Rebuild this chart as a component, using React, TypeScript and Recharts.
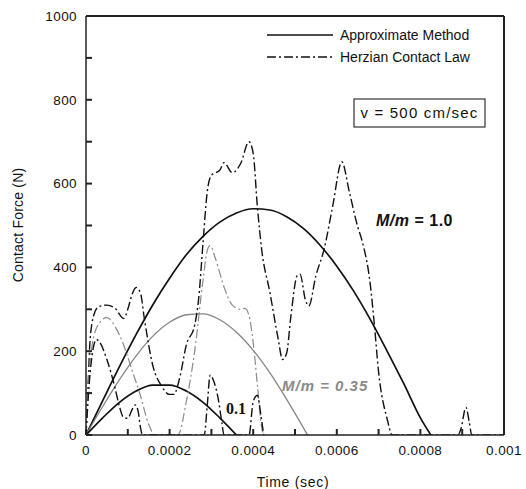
import React from "react"
import { LineChart, Line, XAxis, YAxis, ReferenceLine } from "recharts"

type Pt = [number, number]

// Approximate method (solid) — [time s, force N]
const approx10: Pt[] = [
  [0, 0], [0.00004, 82], [0.00008, 163], [0.00012, 240], [0.00016, 311], [0.0002, 374],
  [0.00024, 430], [0.00028, 474], [0.00032, 508], [0.00036, 530], [0.0004, 540],
  [0.00044, 537], [0.00048, 521], [0.00052, 493], [0.00056, 453], [0.0006, 403],
  [0.00064, 344], [0.00068, 276], [0.00072, 201], [0.00076, 123], [0.0008, 41], [0.000825, 0],
]
const approx035: Pt[] = [
  [0, 0], [0.00004, 68], [0.00008, 132], [0.00012, 189], [0.00016, 236], [0.0002, 269],
  [0.00024, 287], [0.00028, 289], [0.00032, 275], [0.00036, 245], [0.0004, 202],
  [0.00044, 148], [0.00048, 85], [0.00053, 0],
]
const approx01: Pt[] = [
  [0, 0], [0.00004, 41], [0.00008, 78], [0.00012, 105], [0.00016, 119], [0.0002, 119],
  [0.00024, 105], [0.00028, 78], [0.00032, 41], [0.00036, 0],
]

// Herzian contact law (dash-dot)
const herz10: Pt[] = [
  [0, 0], [0.000005, 120], [0.00001, 230], [0.00002, 290], [0.00003, 306], [0.00005, 310],
  [0.00007, 302], [0.00009, 278], [0.0001, 300], [0.00011, 335], [0.00012, 352],
  [0.00013, 340], [0.00014, 275], [0.00016, 165], [0.00018, 118], [0.0002, 97],
  [0.00021, 97], [0.000225, 140], [0.00024, 215], [0.00026, 262], [0.00027, 330],
  [0.00028, 460], [0.00029, 580], [0.0003, 620], [0.00032, 632], [0.00033, 650],
  [0.00035, 626], [0.00037, 648], [0.00039, 700], [0.0004, 672], [0.00041, 545],
  [0.00042, 445], [0.00044, 340], [0.00046, 228], [0.00047, 180], [0.00048, 195],
  [0.00049, 282], [0.000505, 380], [0.000512, 384], [0.000525, 322], [0.000533, 308],
  [0.00055, 380], [0.00057, 445], [0.00059, 545], [0.000612, 652], [0.00063, 580],
  [0.00065, 497], [0.00066, 465], [0.00068, 360], [0.00069, 262], [0.0007, 150],
  [0.00072, 40], [0.000733, 0], [0.00089, 0], [0.000897, 15], [0.000909, 66],
  [0.000917, 30], [0.000923, 0], [0.001, 0],
]
const herz035: Pt[] = [
  [0, 0], [0.00001, 180], [0.00003, 265], [0.00005, 280], [0.00007, 258], [0.00009, 215],
  [0.00011, 155], [0.00013, 95], [0.00015, 25], [0.000165, 0], [0.00022, 0],
  [0.00024, 80], [0.00026, 200], [0.00028, 370], [0.00029, 440], [0.000297, 452],
  [0.00031, 420], [0.00033, 354], [0.00035, 310], [0.00037, 300], [0.00038, 302],
  [0.00039, 285], [0.0004, 220], [0.00041, 120], [0.00042, 20], [0.000425, 0],
]
const herz01: Pt[] = [
  [0, 0], [0.00001, 150], [0.000025, 228], [0.00003, 225], [0.00005, 180], [0.00007, 110],
  [0.00008, 68], [0.00009, 42], [0.0001, 40], [0.00011, 60], [0.000118, 72],
  [0.000125, 55], [0.00013, 20], [0.000135, 0], [0.000283, 0], [0.00029, 70],
  [0.000297, 143], [0.000305, 130], [0.000316, 88], [0.000325, 30], [0.00033, 0],
  [0.00039, 0], [0.0004, 80], [0.00041, 95], [0.000418, 50], [0.000425, 0],
]

const xTicks = [0, 0.0001, 0.0002, 0.0003, 0.0004, 0.0005, 0.0006, 0.0007, 0.0008, 0.0009, 0.001]
const yTicks = [0, 100, 200, 300, 400, 500, 600, 700, 800, 900, 1000]

const FONT = '"Liberation Sans", Arial, sans-serif'
const DASH = "9 3 2 3"
const FRAME = "#222"

const toRows = (pts: Pt[]) => pts.map(([t, f]) => ({ t, f }))
const tickStyle = { fontFamily: FONT, fontSize: 13.5, fill: "#111", letterSpacing: 0.4 }
const fmtX = (v: number) => (Math.round(v * 10000) % 2 === 0 ? String(v) : "")
const fmtY = (v: number) => (v % 200 === 0 ? String(v) : "")

export default function App() {
  return (
    <div style={{ position: "absolute", left: 0, top: 0, width: 526, height: 489, background: "#fff" }}>
      <LineChart width={526} height={489} margin={{ top: 16, right: 22, bottom: 0, left: 0 }}>
        <XAxis
          dataKey="t"
          type="number"
          domain={[0, 0.001]}
          ticks={xTicks}
          interval={0}
          allowDataOverflow
          height={54}
          tickSize={-6}
          tickMargin={16}
          tickLine={{ stroke: FRAME, strokeWidth: 2 }}
          tick={tickStyle}
          tickFormatter={fmtX}
          axisLine={{ stroke: FRAME, strokeWidth: 1.5 }}
        />
        <YAxis
          type="number"
          domain={[0, 1000]}
          ticks={yTicks}
          interval={0}
          allowDataOverflow
          width={86}
          tickSize={-6}
          tickMargin={15}
          tickLine={{ stroke: FRAME, strokeWidth: 2 }}
          tick={tickStyle}
          tickFormatter={fmtY}
          axisLine={{ stroke: FRAME, strokeWidth: 1.5 }}
        />
        <ReferenceLine y={1000} stroke={FRAME} strokeWidth={2} ifOverflow="visible" />
        <ReferenceLine x={0.001} stroke={FRAME} strokeWidth={2} ifOverflow="visible" />
        <Line data={toRows(approx10)} dataKey="f" type="monotone" stroke="#111" strokeWidth={1.7} dot={false} activeDot={false} isAnimationActive={false} />
        <Line data={toRows(approx035)} dataKey="f" type="monotone" stroke="#858585" strokeWidth={1.3} dot={false} activeDot={false} isAnimationActive={false} />
        <Line data={toRows(approx01)} dataKey="f" type="monotone" stroke="#111" strokeWidth={1.7} dot={false} activeDot={false} isAnimationActive={false} />
        <Line data={toRows(herz10)} dataKey="f" type="monotone" stroke="#111" strokeWidth={1.4} strokeDasharray={DASH} dot={false} activeDot={false} isAnimationActive={false} />
        <Line data={toRows(herz035)} dataKey="f" type="monotone" stroke="#8a8a8a" strokeWidth={1.2} strokeDasharray={DASH} dot={false} activeDot={false} isAnimationActive={false} />
        <Line data={toRows(herz01)} dataKey="f" type="monotone" stroke="#111" strokeWidth={1.4} strokeDasharray={DASH} dot={false} activeDot={false} isAnimationActive={false} />
      </LineChart>
      <svg width={526} height={489} style={{ position: "absolute", left: 0, top: 0, pointerEvents: "none" }}>
        <g fontFamily={FONT} fill="#111">
          <line x1={267} x2={333} y1={35} y2={35} stroke="#111" strokeWidth={1.3} />
          <text x={340} y={35} dy="0.36em" fontSize={14}>Approximate Method</text>
          <line x1={267} x2={333} y1={57} y2={57} stroke="#111" strokeWidth={1.3} strokeDasharray={DASH} />
          <text x={340} y={57} dy="0.36em" fontSize={14}>Herzian Contact Law</text>
          <rect x={354} y={99} width={131} height={28} fill="#fff" stroke="#333" strokeWidth={1.2} />
          <text x={419.5} y={113} dy="0.36em" fontSize={15} letterSpacing={1.2} textAnchor="middle">v = 500 cm/sec</text>
          <text x={376} y={220} dy="0.36em" fontSize={16} fontWeight="bold" letterSpacing={0.5}>
            <tspan fontStyle="italic">M/m</tspan> = 1.0
          </text>
          <text x={282} y={386} dy="0.36em" fontSize={15} fontWeight="bold" fontStyle="italic" letterSpacing={1} fill="#8a8a8a">
            M/m = 0.35
          </text>
          <text x={226} y={408} dy="0.36em" fontSize={16} fontWeight="bold" fontFamily='"Liberation Serif", serif'>0.1</text>
          <text x={293} y={482} dy="0.36em" fontSize={14} letterSpacing={0.7} textAnchor="middle">Time (sec)</text>
          <text x={18} y={225} dy="0.36em" fontSize={14} letterSpacing={0.2} textAnchor="middle" transform="rotate(-90 18 225)">
            Contact Force (N)
          </text>
        </g>
      </svg>
    </div>
  )
}
